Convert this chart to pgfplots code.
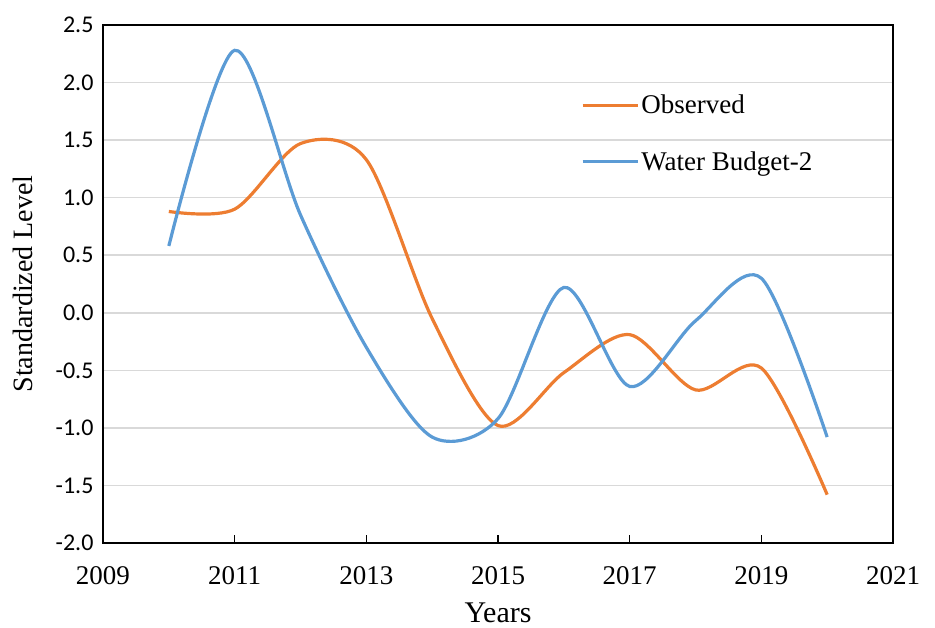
\documentclass[border=0pt]{standalone}
\usepackage{pgfplots}
\pgfplotsset{compat=1.18}
\usepackage{fontspec}
\setmainfont{Liberation Serif}
\newfontfamily\yfont{Carlito}
\definecolor{obs}{HTML}{ED7D31}
\definecolor{wb}{HTML}{5B9BD5}
\definecolor{gridc}{HTML}{D9D9D9}
\begin{document}
\begin{tikzpicture}
\begin{axis}[
  name=ax,
  scale only axis,
  width=790pt, height=518pt,
  xmin=2009, xmax=2021, ymin=-2, ymax=2.5,
  xtick={2009,2011,...,2021},
  ytick={-2,-1.5,...,2.5},
  axis line style={black, line width=1.6pt},
  ymajorgrids,
  major grid style={gridc, line width=1.6pt},
  tick style={black, line width=1.4pt},
  xtick pos=bottom, ytick pos=left,
  tick align=inside,
  major tick length=8pt,
  y tick style={draw=none},
  x tick label style={/pgf/number format/1000 sep={}, font=\fontsize{27}{31}\selectfont, yshift=-20pt},
  y tick label style={/pgf/number format/fixed, /pgf/number format/fixed zerofill, /pgf/number format/precision=1, font=\yfont\fontsize{24}{28}\selectfont, xshift=-6pt},
  /pgf/number format/assume math mode=true,
  xlabel={Years},
  xlabel style={font=\fontsize{30}{34}\selectfont, yshift=-11pt},
  ylabel={Standardized Level},
  ylabel style={font=\fontsize{28}{32}\selectfont, yshift=16pt},
  legend style={draw=none, fill=none, at={(0.605,0.869)}, anchor=north west,
    font=\fontsize{27}{32}\selectfont, row sep=32pt, inner sep=0pt},
  legend cell align=left,
  legend image code/.code={\draw[#1, line width=3.2pt] (0pt,0pt) -- (55pt,0pt);},
]
\addplot[obs, line width=3.2pt, smooth, tension=0.5] coordinates {
(2010,0.88) (2011,0.90) (2012,1.47) (2013,1.33) (2014,-0.05) (2015,-0.98)
(2016,-0.52) (2017,-0.19) (2018,-0.67) (2019,-0.48) (2020,-1.58)};
\addlegendentry{Observed}
\addplot[wb, line width=3.2pt, smooth, tension=0.5] coordinates {
(2010,0.58) (2011,2.28) (2012,0.85) (2013,-0.30) (2014,-1.08) (2015,-0.92)
(2016,0.22) (2017,-0.64) (2018,-0.07) (2019,0.30) (2020,-1.08)};
\addlegendentry{Water Budget-2}
\end{axis}
\path[use as bounding box] ([xshift=-103pt,yshift=-85pt]ax.south west) rectangle ([xshift=42pt,yshift=25pt]ax.north east);
\end{tikzpicture}
\end{document}
